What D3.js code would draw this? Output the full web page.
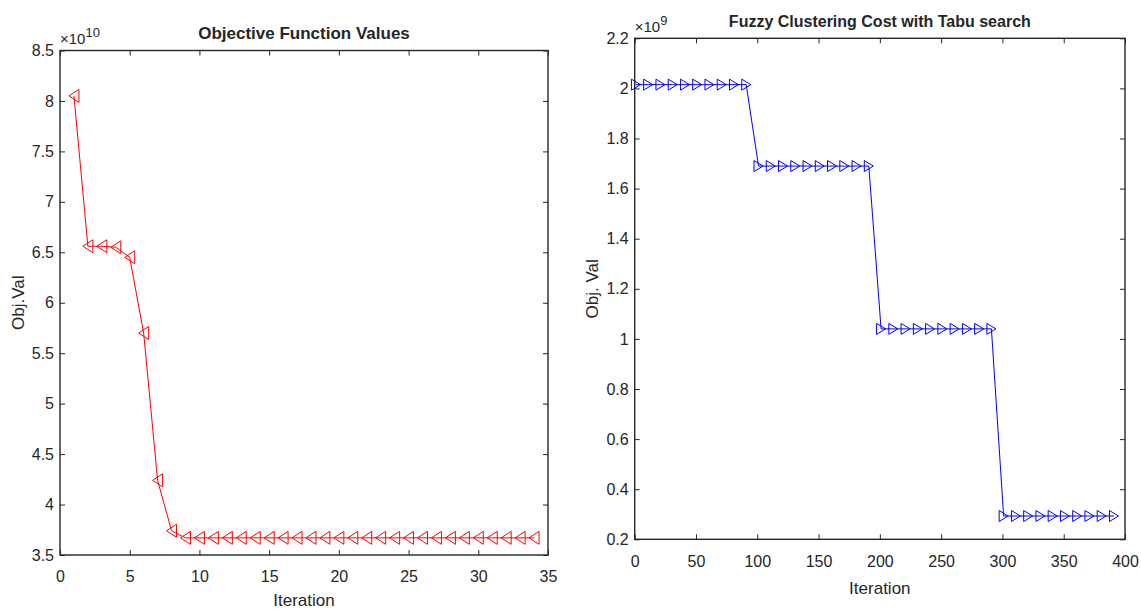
<!DOCTYPE html>
<html>
<head>
<meta charset="utf-8">
<script src="https://d3js.org/d3.v7.min.js"></script>
<style>
  body { margin: 0; background: #fff; }
  text { font-family: "Liberation Sans", Arial, sans-serif; fill: #262626; }
</style>
</head>
<body>
<div id="chart"></div>
<script>
// left panel: objective values (x 1e10) per iteration
const objIter = [1,2,3,4,5,6,7,8,9,10,11,12,13,14,15,16,17,18,19,20,21,22,23,24,25,26,27,28,29,30,31,32,33,34];
const objVal = [8.05,6.56,6.56,6.55,6.45,5.70,4.24,3.74,3.67,3.67,3.67,3.67,3.67,3.67,3.67,3.67,3.67,3.67,3.67,3.67,
                3.67,3.67,3.67,3.67,3.67,3.67,3.67,3.67,3.67,3.67,3.67,3.67,3.67,3.67];
const objXTicks = [0,5,10,15,20,25,30,35];
const objYTicks = [3.5,4,4.5,5,5.5,6,6.5,7,7.5,8,8.5];

// right panel: fuzzy clustering cost (x 1e9), every 10th iteration
const tabuIter = [1,11,21,31,41,51,61,71,81,91,101,111,121,131,141,151,161,171,181,191,
                  201,211,221,231,241,251,261,271,281,291,301,311,321,331,341,351,361,371,381,391];
const tabuCost = [2.015,2.015,2.015,2.015,2.015,2.015,2.015,2.015,2.015,2.015,
                  1.69,1.69,1.69,1.69,1.69,1.69,1.69,1.69,1.69,1.69,
                  1.04,1.04,1.04,1.04,1.04,1.04,1.04,1.04,1.04,1.04,
                  0.293,0.293,0.293,0.293,0.293,0.293,0.293,0.293,0.293,0.293];
const tabuXTicks = [0,50,100,150,200,250,300,350,400];
const tabuYTicks = [0.2,0.4,0.6,0.8,1,1.2,1.4,1.6,1.8,2,2.2];

const svg = d3.select("#chart").append("svg")
  .attr("width", 1141).attr("height", 612);
svg.append("rect").attr("width", 1141).attr("height", 612).attr("fill", "#fff");

function panel(o) {
  const g = svg.append("g").attr("transform", `translate(${o.left},${o.top})`);
  const w = o.width, h = o.height;
  const x = d3.scaleLinear().domain(o.xDomain).range([0, w]);
  const y = d3.scaleLinear().domain(o.yDomain).range([h, 0]);
  const axisColor = "#262626";

  // axes (ticks inward, box on)
  const styleAxis = sel => {
    sel.select(".domain").remove();
    sel.selectAll("line").attr("stroke", axisColor);
    sel.selectAll("text").style("font-size", "16px").attr("fill", axisColor);
  };
  g.append("g").attr("transform", `translate(0,${h})`)
    .call(d3.axisBottom(x).tickValues(o.xTicks).tickSize(-5).tickPadding(16).tickFormat(d3.format("")))
    .call(styleAxis);
  g.append("g")
    .call(d3.axisTop(x).tickValues(o.xTicks).tickSize(-5).tickFormat(""))
    .call(styleAxis);
  g.append("g")
    .call(d3.axisLeft(y).tickValues(o.yTicks).tickSize(-5).tickPadding(6).tickFormat(d3.format("")))
    .call(styleAxis);
  g.append("g").attr("transform", `translate(${w},0)`)
    .call(d3.axisRight(y).tickValues(o.yTicks).tickSize(-5).tickFormat(""))
    .call(styleAxis);
  g.append("rect").attr("width", w).attr("height", h)
    .attr("fill", "none").attr("stroke", axisColor).attr("stroke-width", 1.4);

  // exponent label
  const ex = g.append("text").attr("x", 0).attr("y", o.expY).style("font-size", "15px");
  ex.append("tspan").text("\u00d710");
  ex.append("tspan").attr("dy", -7).style("font-size", "13px").text(o.exponent);

  // title and labels
  g.append("text").attr("x", w / 2 + o.titleDx).attr("y", o.titleY)
    .attr("text-anchor", "middle").style("font-size", o.titleSize).style("font-weight", "bold")
    .attr("fill", "#000").text(o.title);
  g.append("text").attr("x", w / 2).attr("y", h + o.xlabelDy)
    .attr("text-anchor", "middle").style("font-size", "17px").text("Iteration");
  g.append("text").attr("transform", `translate(${o.ylabelX},${h / 2}) rotate(-90)`)
    .attr("text-anchor", "middle").style("font-size", "17px").text(o.ylabel);

  // line + markers
  const pts = o.xs.map((d, i) => [d, o.ys[i]]);
  g.append("path").datum(pts)
    .attr("fill", "none").attr("stroke", o.color).attr("stroke-width", 1)
    .attr("d", d3.line().x(d => x(d[0])).y(d => y(d[1])));
  const mw = o.markerW, mh = o.markerH;
  const tri = o.dir < 0
    ? `M${-mw / 2},0 L${mw / 2},${-mh / 2} L${mw / 2},${mh / 2} Z`
    : `M${mw / 2},0 L${-mw / 2},${-mh / 2} L${-mw / 2},${mh / 2} Z`;
  g.selectAll(".mk").data(pts).join("path")
    .attr("class", "mk")
    .attr("transform", d => `translate(${x(d[0])},${y(d[1])})`)
    .attr("d", tri)
    .attr("fill", "none").attr("stroke", o.color).attr("stroke-width", 1);
}

panel({
  left: 60, top: 50.5, width: 488, height: 504.5,
  xDomain: [0, 35], yDomain: [3.5, 8.5],
  xTicks: objXTicks, yTicks: objYTicks,
  xs: objIter, ys: objVal,
  exponent: "10", expY: -7, title: "Objective Function Values", titleDx: 0, titleY: -12, titleSize: "17px",
  ylabel: "Obj.Val", ylabelX: -36, xlabelDy: 51,
  color: "#ff0000", dir: -1, markerW: 10, markerH: 13
});

panel({
  left: 634.7, top: 38.3, width: 490.3, height: 501,
  xDomain: [0, 400], yDomain: [0.2, 2.2],
  xTicks: tabuXTicks, yTicks: tabuYTicks,
  xs: tabuIter, ys: tabuCost,
  exponent: "9", expY: -6, title: "Fuzzy Clustering Cost with Tabu search", titleDx: 0, titleY: -11, titleSize: "16px",
  ylabel: "Obj. Val", ylabelX: -37, xlabelDy: 55,
  color: "#0000ff", dir: 1, markerW: 9, markerH: 11
});
</script>
</body>
</html>
